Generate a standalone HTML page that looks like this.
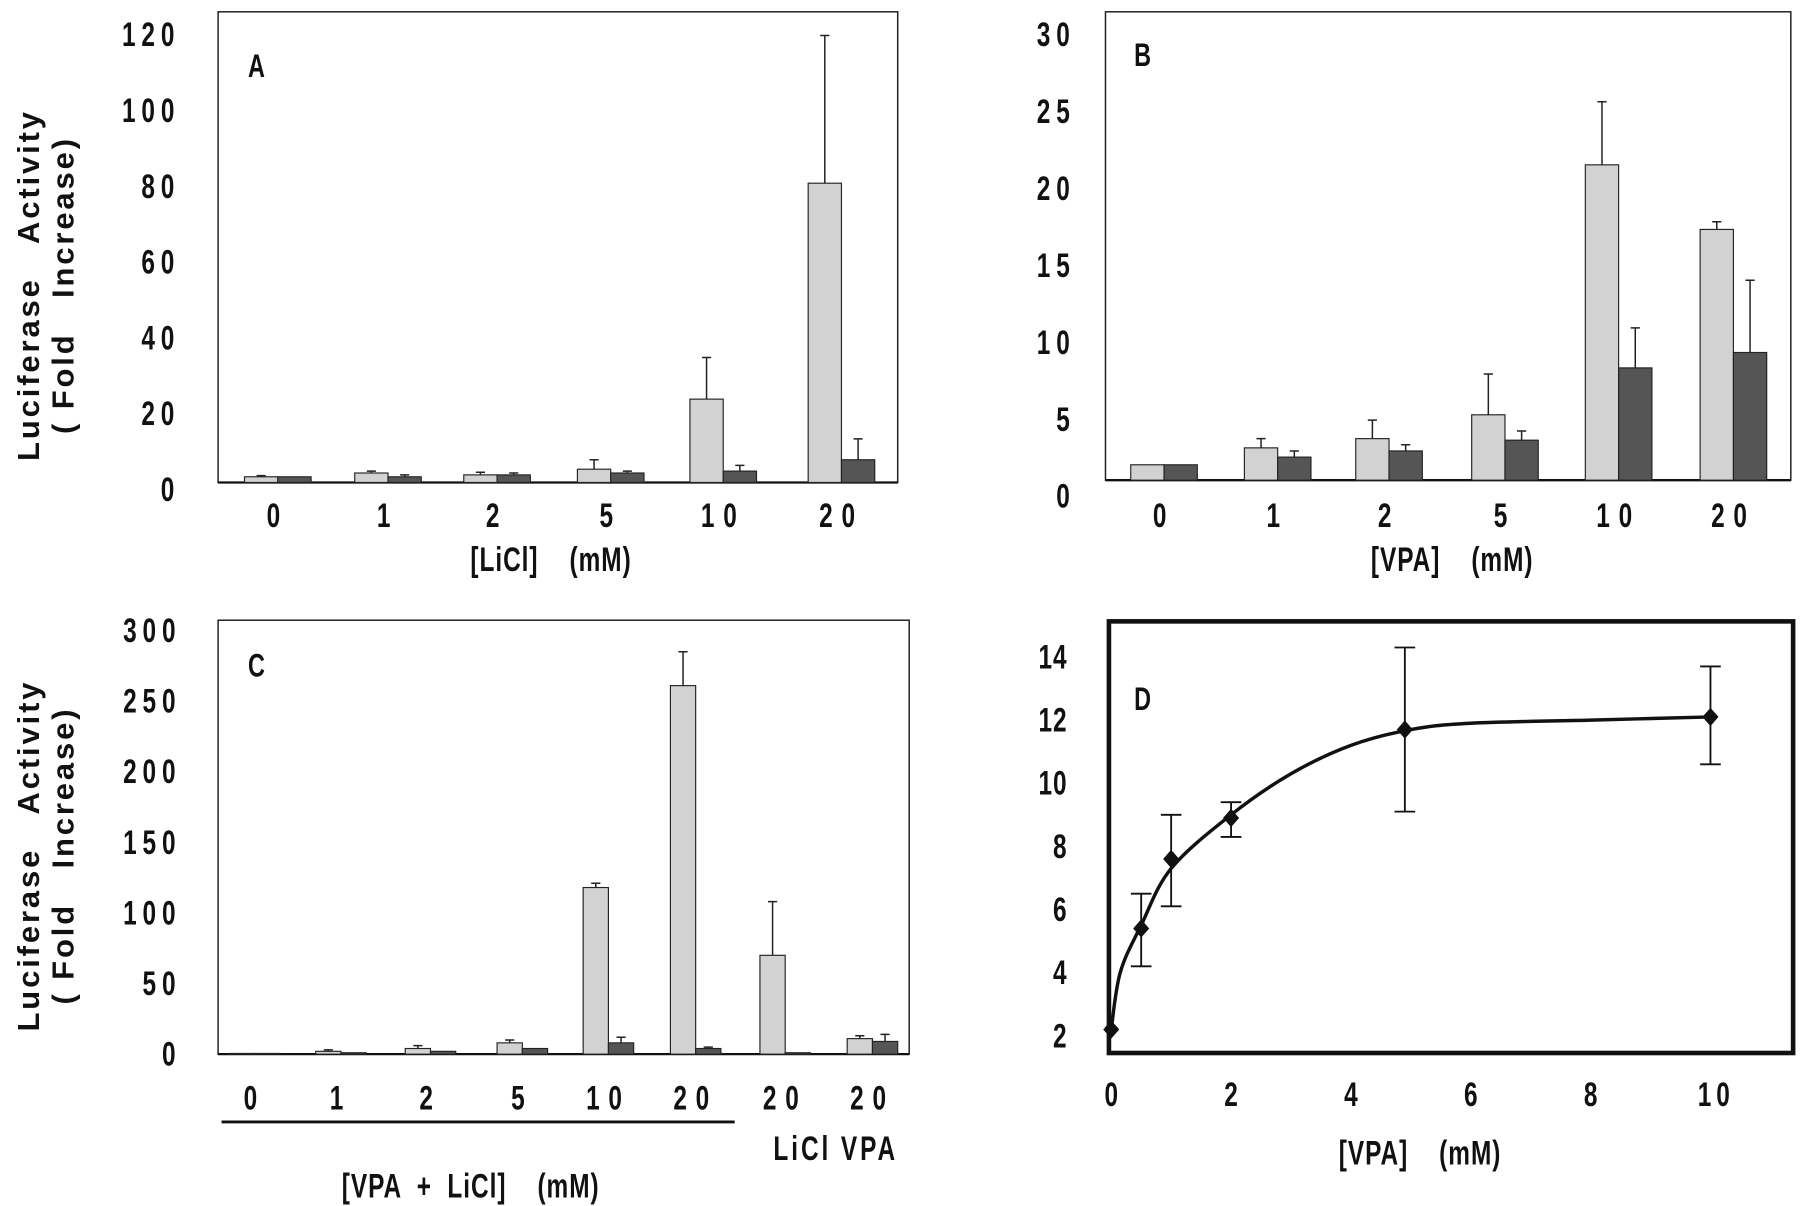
<!DOCTYPE html>
<html><head><meta charset="utf-8"><style>
html,body{margin:0;padding:0;background:#fff;}
svg{display:block;}
text{font-family:"Liberation Sans Narrow","Liberation Sans",sans-serif;font-weight:bold;fill:#111;white-space:pre;}
.ax{font-family:"Liberation Sans",sans-serif;}
</style></head><body>
<svg id="fig" width="1800" height="1206" viewBox="0 0 1568 1050" xmlns="http://www.w3.org/2000/svg">
<g>
<text class="ax" transform="translate(34,248) rotate(-90)" text-anchor="middle" font-size="27" letter-spacing="2.5">Luciferase   Activity</text>
<text class="ax" transform="translate(64,248) rotate(-90)" text-anchor="middle" font-size="27" letter-spacing="2.5">( Fold   Increase)</text>
<text class="ax" transform="translate(34,745) rotate(-90)" text-anchor="middle" font-size="27" letter-spacing="2.5">Luciferase   Activity</text>
<text class="ax" transform="translate(64,745) rotate(-90)" text-anchor="middle" font-size="27" letter-spacing="2.5">( Fold   Increase)</text>
</g>
</svg>
<script>
const NS='http://www.w3.org/2000/svg';
const svg=document.getElementById('fig');
function mk(tag,attrs,parent){const e=document.createElementNS(NS,tag);for(const k in attrs)e.setAttribute(k,attrs[k]);(parent||svg).appendChild(e);return e;}
function ctext(parent,x,y,str,size,anchor,ls){
  const t=mk('text',{transform:`translate(${x},${y}) scale(0.85,1.18)`,'text-anchor':anchor,'font-size':size,'letter-spacing':ls||0,style:'white-space:pre'},parent);
  t.textContent=str;
  return t;
}

// ---- Panel A data ----
const catsA=['0','1','2','5','10','20'];
const lightA=[1.5,2.5,2,3.5,22,79];
const lightErrA=[1.8,3,2.7,6,33,118];
const darkA=[1.5,1.5,2,2.5,3,6];
const darkErrA=[1.5,2,2.5,3,4.5,11.5];
const ticksA=[0,20,40,60,80,100,120];
// ---- Panel B data ----
const catsB=['0','1','2','5','10','20'];
const lightB=[1.0,2.1,2.7,4.25,20.5,16.3];
const lightErrB=[1.0,2.7,3.9,6.9,24.6,16.8];
const darkB=[1.0,1.5,1.9,2.6,7.3,8.3];
const darkErrB=[1.0,1.9,2.3,3.2,9.9,13.0];
const ticksB=[0,5,10,15,20,25,30];
// ---- Panel C data ----
const catsC=['0','1','2','5','10','20','20','20'];
const lightC=[0.5,2,4,8,118,261,70,11];
const lightErrC=[0.5,3,6,10,121,285,108,13];
const darkC=[0.5,1,2,4,8,4,1,9];
const darkErrC=[0.5,1,2,4,12,5,1,14];
const ticksC=[0,50,100,150,200,250,300];
// ---- Panel D data ----
const doseD=[0,0.5,1,2,4.9,10];
const meanD=[2.2,5.4,7.6,8.9,11.7,12.1];
const errLoD=[2.2,4.2,6.1,8.3,9.1,10.6];
const errHiD=[2.2,6.5,9.0,9.4,14.3,13.7];
const curveX=[0,0.15,0.5,1,2,3,4,5,6,8,10];
const curveY=[2.2,4.0,5.5,7.3,9.0,10.3,11.2,11.7,11.9,12.0,12.1];
const ticksDX=[0,2,4,6,8,10];
const ticksDY=[2,4,6,8,10,12,14];

function barPanel(cfg){
  const g=mk('g',{});
  
  
  const y=v=>cfg.base-v*cfg.k;
  const box=mk('rect',{x:cfg.left,y:cfg.top,width:cfg.right-cfg.left,height:cfg.base-cfg.top,fill:'none',stroke:'#222','stroke-width':1.3},g);
  
  
  const bl=mk('line',{x1:cfg.left,x2:cfg.right,y1:cfg.base,y2:cfg.base,stroke:'#111','stroke-width':2},g);
  
  
  cfg.ticks.forEach(t=>{
    const tx=ctext(g,cfg.lx,y(t)+cfg.loff+10,String(t),25,'end',6);
    
    
  });
  cfg.cats.forEach((c,i)=>{
    const cx=cfg.cx[i];
    const bars=[[cfg.light[i],cfg.lightErr[i],'#d2d2d2',cx-cfg.bw],[cfg.dark[i],cfg.darkErr[i],'#555',cx]];
    bars.forEach((b,j)=>{
      const r=mk('rect',{x:b[3],y:y(b[0]),width:cfg.bw,height:b[0]*cfg.k,fill:b[2],stroke:'#222','stroke-width':1},g);
      
      
      if(b[1]>b[0]){
        const mx=b[3]+cfg.bw/2;
        const e=mk('path',{d:`M${mx},${y(b[0])}V${y(b[1])}M${mx-4},${y(b[1])}H${mx+4}`,stroke:'#222','stroke-width':1.3,fill:'none'},g);
        
        
      }
    });
    const tl=ctext(g,cx,cfg.xly,c,25,'middle',9);
    
    
  });
  const L=ctext(g,cfg.letter[0],cfg.letter[1],cfg.letterText,24,'start',0);
  
  
  return g;
}
barPanel({name:'panel-a',left:190,right:782,top:10,base:420,k:3.3,lx:157,loff:6,ticks:ticksA,cats:catsA,
  cx:[242,338,433,532,630,733],bw:29,light:lightA,lightErr:lightErrA,dark:darkA,darkErr:darkErrA,xly:459,letter:[216,67],letterText:'A'});
barPanel({name:'panel-b',left:963,right:1560,top:10,base:418,k:13.4,lx:937,loff:14,ticks:ticksB,cats:catsB,
  cx:[1014,1113,1210,1311,1410,1510],bw:29,light:lightB,lightErr:lightErrB,dark:darkB,darkErr:darkErrB,xly:459,letter:[988,57],letterText:'B'});
barPanel({name:'panel-c',left:190,right:792,top:540,base:918,k:1.23,lx:158,loff:0,ticks:ticksC,cats:catsC,
  cx:[222,297,375,455,530,606,684,760],bw:22,light:lightC,lightErr:lightErrC,dark:darkC,darkErr:darkErrC,xly:966,letter:[216,589],letterText:'C'});

// Panel C extras & titles
(function(){
  const u=mk('line',{x1:193,x2:640,y1:977,y2:977,stroke:'#111','stroke-width':2.5});
  
  
  const t1=ctext(svg,728,1010,'LiCl VPA',25,'middle',3);
  
  
  const t2=ctext(svg,410,1043,'[VPA  +  LiCl]    (mM)',25,'middle',1);
  
  
  const a=ctext(svg,480,497,'[LiCl]    (mM)',25,'middle',1);
  
  
  const b=ctext(svg,1265,497,'[VPA]    (mM)',25,'middle',1);
  
  
})();

// Panel D
(function(){
  const g=mk('g',{});
  
  
  const X=v=>968+v*52.2, Y=v=>902-(v-2)*27.5;
  const box=mk('rect',{x:966,y:541,width:596,height:376,fill:'none',stroke:'#111','stroke-width':4},g);
  
  
  ticksDY.forEach(t=>{
    const tx=ctext(g,930,Y(t)+10,String(t),25,'end',1);
    
    
  });
  ticksDX.forEach(t=>{
    const tx=ctext(g,X(t)+(t===10?5:0),963,String(t),25,'middle',t===10?5:0);
    
    
  });
  const tt=ctext(g,1237,1014,'[VPA]    (mM)',25,'middle',1);
  
  
  const P=curveX.map((x,i)=>[X(x),Y(curveY[i])]);
  let d=`M${P[0][0]},${P[0][1]}`;
  for(let i=0;i<P.length-1;i++){
    const p0=P[Math.max(0,i-1)],p1=P[i],p2=P[i+1],p3=P[Math.min(P.length-1,i+2)];
    d+=`C${p1[0]+(p2[0]-p0[0])/6},${p1[1]+(p2[1]-p0[1])/6} ${p2[0]-(p3[0]-p1[0])/6},${p2[1]-(p3[1]-p1[1])/6} ${p2[0]},${p2[1]}`;
  }
  const c=mk('path',{d,fill:'none',stroke:'#111','stroke-width':3},g);
  
  
  doseD.forEach((x,i)=>{
    const px=X(x);
    if(errHiD[i]>errLoD[i]){
      const e=mk('path',{d:`M${px},${Y(errLoD[i])}V${Y(errHiD[i])}M${px-9},${Y(errLoD[i])}H${px+9}M${px-9},${Y(errHiD[i])}H${px+9}`,stroke:'#111','stroke-width':1.6,fill:'none'},g);
      
      
    }
    const py=Y(meanD[i]);
    const m=mk('path',{d:`M${px},${py-8}L${px+7},${py}L${px},${py+8}L${px-7},${py}Z`,fill:'#111'},g);
    
    
  });
  const L=ctext(g,988,618,'D',24,'start',0);
  
  
})();
</script>
</body></html>
